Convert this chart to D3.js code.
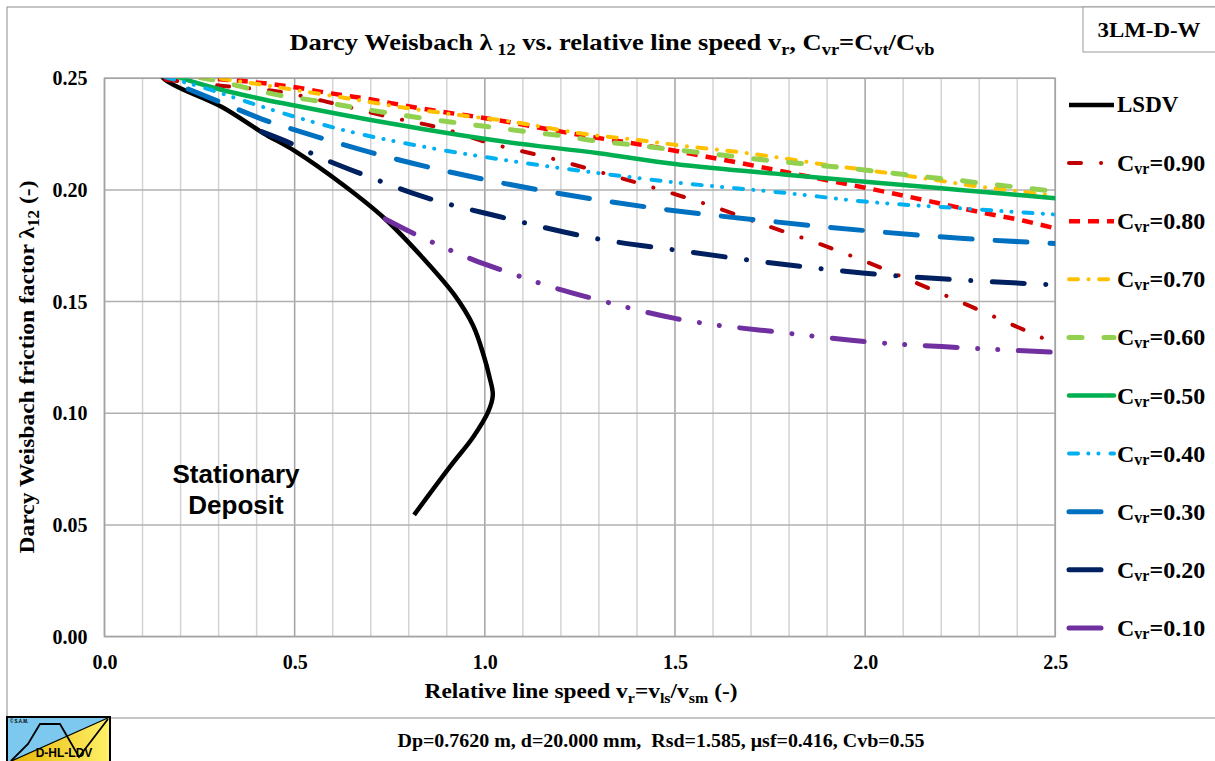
<!DOCTYPE html>
<html><head><meta charset="utf-8">
<script src="https://cdn.jsdelivr.net/npm/d3@7"></script>
<style>
body{margin:0;background:#fff}
svg{display:block}
text{font-family:"Liberation Serif","Times New Roman",serif;font-weight:bold;fill:#000}
</style>
</head><body>
<svg id="chart" width="1215" height="761"></svg>
<script>
// ---------------- data ----------------
const xTicks = [0, 0.5, 1.0, 1.5, 2.0, 2.5];
const yTicks = [0, 0.05, 0.10, 0.15, 0.20, 0.25];
const xTickLabels = ["0.0", "0.5", "1.0", "1.5", "2.0", "2.5"];
const yTickLabels = ["0.00", "0.05", "0.10", "0.15", "0.20", "0.25"];

const lsdv = [[0.145,0.2545],[0.155,0.250],[0.31,0.237],[0.418,0.2254],[0.50,0.2175],[0.628,0.2022],[0.738,0.187],[0.838,0.1694],[0.92,0.153],[0.97,0.139],[0.998,0.1253],[1.012,0.1164],[1.021,0.1082],[1.009,0.1007],[0.97,0.0895],[0.9085,0.0761],[0.814,0.0545]];

const c90 = [[0.16,0.2494],[0.312,0.2466],[0.46,0.2440],[0.602,0.2388],[0.746,0.2328],[0.887,0.2276],[1.014,0.2209],[1.167,0.2145],[1.309,0.2077],[1.448,0.2008],[1.588,0.1933],[1.726,0.1849],[1.866,0.1767],[2.002,0.1679],[2.137,0.1582],[2.273,0.1482],[2.405,0.1383],[2.5,0.1312]];
const c80 = [[0.15,0.2535],[0.25,0.2505],[0.38,0.2485],[0.488,0.2463],[0.593,0.2433],[0.698,0.2406],[0.795,0.2376],[0.9,0.2347],[1.014,0.2318],[1.272,0.2240],[1.417,0.2201],[1.583,0.2149],[1.689,0.2115],[1.794,0.2079],[2.0,0.2010],[2.105,0.1973],[2.206,0.1936],[2.316,0.1896],[2.42,0.1861],[2.5,0.1828]];
const c70 = [[0.15,0.2545],[0.312,0.2497],[0.40,0.2475],[0.518,0.2443],[0.637,0.2411],[0.786,0.2369],[0.943,0.2333],[1.057,0.2309],[1.25,0.2254],[1.425,0.2219],[1.5,0.2202],[1.67,0.2169],[1.785,0.2142],[1.90,0.2112],[2.0,0.2090],[2.145,0.2055],[2.30,0.2015],[2.425,0.1990],[2.5,0.1974]];
const c60 = [[0.16,0.2525],[0.286,0.2493],[0.378,0.2455],[0.470,0.2421],[0.558,0.2399],[0.654,0.2370],[0.742,0.2346],[0.838,0.2321],[0.926,0.2301],[1.018,0.2281],[1.11,0.2261],[1.206,0.2242],[1.294,0.2219],[1.39,0.2202],[1.478,0.2184],[1.570,0.2167],[1.662,0.2149],[1.754,0.2131],[1.846,0.2116],[1.943,0.2100],[2.035,0.2082],[2.127,0.2064],[2.219,0.2048],[2.31,0.2030],[2.403,0.2012],[2.5,0.1994]];
const c50 = [[0.15,0.2535],[0.199,0.2503],[0.3,0.2452],[0.4,0.2412],[0.5,0.2378],[0.7,0.2313],[0.84,0.2272],[1.04,0.2219],[1.3,0.2164],[1.5,0.2116],[1.8,0.2067],[2.0,0.2037],[2.25,0.2000],[2.5,0.1963]];
const c40 = [[0.16,0.2505],[0.251,0.2463],[0.374,0.2395],[0.5,0.2328],[0.663,0.2254],[0.838,0.2194],[1.04,0.2137],[1.30,0.2075],[1.5,0.2034],[1.8,0.1985],[2.0,0.1948],[2.25,0.1918],[2.5,0.1890]];
const c30 = [[0.22,0.2452],[0.312,0.2388],[0.444,0.2299],[0.5,0.2269],[0.724,0.2157],[1.005,0.2045],[1.30,0.1955],[1.50,0.1907],[1.732,0.1863],[2.0,0.1818],[2.25,0.1784],[2.5,0.1760]];
const c20 = [[0.413,0.2261],[0.5,0.2201],[0.553,0.2157],[0.689,0.2063],[0.838,0.1970],[1.04,0.1880],[1.30,0.1780],[1.50,0.1731],[1.80,0.1664],[2.0,0.1627],[2.25,0.1597],[2.5,0.1575]];
const c10 = [[0.738,0.187],[0.825,0.1795],[0.874,0.1757],[0.970,0.1687],[1.062,0.1631],[1.158,0.1575],[1.30,0.1507],[1.50,0.1425],[1.80,0.1358],[2.0,0.1321],[2.25,0.1294],[2.5,0.1273]];

const cvrValues = ["0.90","0.80","0.70","0.60","0.50","0.40","0.30","0.20","0.10"];
const seriesData = [c90, c80, c70, c60, c50, c40, c30, c20, c10];

// ---------------- styles ----------------
const colors = ["#C00000","#FF0000","#FFC000","#92D050","#00B050","#00B0F0","#0070C0","#002060","#7030A0"];
const dashes = ["12,20,0.1,20","11,8","9,10.5,0.1,10.5","13,22",null,"9,10.3,0.1,10,0.1,12","32,23","32,21.5,0.1,21.5","32,20.5,0.1,20,0.1,20.5"];
const caps = ["round","butt","round","round","round","round","round","round","round"];
const widths = [4,4.5,4,5,4.5,4,5,5,5];

const svg = d3.select("#chart");
const X0 = 104.5, X1 = 1055.3, Y0 = 636.6, Y1 = 78.3;
const x = d3.scaleLinear().domain([0, 2.5]).range([X0, X1]);
const y = d3.scaleLinear().domain([0, 0.25]).range([Y0, Y1]);

// outer frame
svg.append("rect").attr("x",7).attr("y",7).attr("width",1300).attr("height",711)
  .attr("fill","none").attr("stroke","#8c8c8c").attr("stroke-width",1);

// gridlines
const g = svg.append("g");
d3.range(0, 26).forEach(i => {
  const v = i / 10;
  const major = i % 5 === 0;
  g.append("line").attr("x1", x(v)).attr("x2", x(v)).attr("y1", Y1).attr("y2", Y0)
    .attr("stroke", major ? "#a3a3a3" : "#d3d3d3").attr("stroke-width", 1.5);
});
yTicks.forEach(v => {
  g.append("line").attr("x1", X0).attr("x2", X1).attr("y1", y(v)).attr("y2", y(v))
    .attr("stroke", "#b0b0b0").attr("stroke-width", 1.5);
});
g.append("rect").attr("x",X0).attr("y",Y1).attr("width",X1-X0).attr("height",Y0-Y1)
  .attr("fill","none").attr("stroke","#a3a3a3").attr("stroke-width",1.5);

// axes (labels only)
const yAxis = d3.axisLeft(y).tickValues(yTicks).tickSize(0).tickPadding(17)
  .tickFormat((d,i) => yTickLabels[i]);
const ya = svg.append("g").attr("transform", `translate(${X0},0)`).call(yAxis);
ya.select(".domain").remove();
ya.selectAll("text").attr("font-size", 20).attr("font-family", "Liberation Serif").attr("font-weight","bold").attr("fill","#000");

const xAxis = d3.axisBottom(x).tickValues(xTicks).tickSize(0).tickPadding(18)
  .tickFormat((d,i) => xTickLabels[i]);
const xa = svg.append("g").attr("transform", `translate(0,${Y0})`).call(xAxis);
xa.select(".domain").remove();
xa.selectAll("text").attr("font-size", 20).attr("font-family", "Liberation Serif").attr("font-weight","bold").attr("fill","#000");

// clip
svg.append("clipPath").attr("id","plotclip").append("rect")
  .attr("x",X0).attr("y",Y1).attr("width",X1-X0).attr("height",Y0-Y1);
const plot = svg.append("g").attr("clip-path","url(#plotclip)");

const lineCR = d3.line().x(d => x(d[0])).y(d => y(d[1])).curve(d3.curveCatmullRom.alpha(0.5));
const lineM = d3.line().x(d => x(d[0])).y(d => y(d[1])).curve(d3.curveMonotoneX);

plot.append("path").datum(lsdv).attr("d", lineCR).attr("fill","none")
  .attr("stroke","#000").attr("stroke-width",4.5).attr("stroke-linejoin","round");

seriesData.forEach((data, i) => {
  plot.append("path").datum(data).attr("d", lineM).attr("fill","none")
    .attr("stroke", colors[i]).attr("stroke-width", widths[i])
    .attr("stroke-dasharray", dashes[i]).attr("stroke-linecap", caps[i]);
});

// rich text helper
function rich(sel, parts, size, subSize, shift) {
  parts.forEach((p, k) => {
    const isSub = p[1] === "sub";
    const prevSub = k > 0 && parts[k-1][1] === "sub";
    const t = sel.append("tspan").text(p[0]).attr("font-size", isSub ? subSize : size);
    let dy = 0;
    if (isSub && !prevSub) dy = shift;
    if (!isSub && prevSub) dy = -shift;
    if (dy) t.attr("dy", dy);
  });
}

// title
const title = svg.append("text").attr("x", 612).attr("y", 50).attr("text-anchor","middle").attr("font-size",23)
  .attr("textLength", 645).attr("lengthAdjust","spacingAndGlyphs");
rich(title, [["Darcy Weisbach λ"],[" 12","sub"],[" vs. relative line speed v"],["r","sub"],[", C"],["vr","sub"],["=C"],["vt","sub"],["/C"],["vb","sub"]], 23, 16, 5);

// 3LM box
svg.append("rect").attr("x",1083).attr("y",7).attr("width",140).attr("height",45)
  .attr("fill","#fff").attr("stroke","#9a9a9a").attr("stroke-width",1);
svg.append("text").attr("x",1149).attr("y",37).attr("text-anchor","middle").attr("font-size",22)
  .attr("textLength",103).attr("lengthAdjust","spacingAndGlyphs").text("3LM-D-W");

// y-axis title
const yt = svg.append("text").attr("transform","translate(34,367) rotate(-90)").attr("text-anchor","middle").attr("font-size",22)
  .attr("textLength", 373).attr("lengthAdjust","spacingAndGlyphs");
rich(yt, [["Darcy Weisbach friction factor λ"],["12","sub"],[" (-)"]], 22, 16, 5);

// x-axis title
const xt = svg.append("text").attr("x",581).attr("y",698).attr("text-anchor","middle").attr("font-size",22)
  .attr("textLength", 313).attr("lengthAdjust","spacingAndGlyphs");
rich(xt, [["Relative line speed v"],["r","sub"],["=v"],["ls","sub"],["/v"],["sm","sub"],[" (-)"]], 22, 15, 5);

// bottom parameters
svg.append("text").attr("x",661).attr("y",747).attr("text-anchor","middle").attr("font-size",18)
  .attr("textLength", 527).attr("lengthAdjust","spacingAndGlyphs")
  .style("white-space","pre").text("Dp=0.7620 m, d=20.000 mm,  Rsd=1.585, μsf=0.416, Cvb=0.55");

// Stationary deposit
svg.append("text").attr("x",236).attr("y",483).attr("text-anchor","middle")
  .style("font-family","'Liberation Sans', Arial, sans-serif").attr("font-size",26).text("Stationary");
svg.append("text").attr("x",236).attr("y",514).attr("text-anchor","middle")
  .style("font-family","'Liberation Sans', Arial, sans-serif").attr("font-size",26).text("Deposit");

// legend
const legY = i => 105 + i * 58.1;
const lg = svg.append("g");
lg.append("line").attr("x1",1069).attr("x2",1114).attr("y1",legY(0)).attr("y2",legY(0))
  .attr("stroke","#000").attr("stroke-width",4.5);
lg.append("text").attr("x",1117).attr("y",legY(0)+7).attr("font-size",23).text("LSDV");
cvrValues.forEach((c, i) => {
  const yy = legY(i+1);
  lg.append("line").attr("x1",1069).attr("x2",1114).attr("y1",yy).attr("y2",yy)
    .attr("stroke",colors[i]).attr("stroke-width",widths[i])
    .attr("stroke-dasharray",dashes[i]).attr("stroke-linecap",caps[i]);
  const t = lg.append("text").attr("x",1117).attr("y",yy+8).attr("font-size",24);
  rich(t, [["C"],["vr","sub"],["="+c]], 24, 16, 3);
});

// logo
const lgX = 7, lgY = 717, lw = 103, lh = 46;
const defs = svg.append("defs");
const grad = defs.append("linearGradient").attr("id","ylw").attr("x1","0").attr("x2","1").attr("y1","0").attr("y2","0");
grad.append("stop").attr("offset","0").attr("stop-color","#E6B400");
grad.append("stop").attr("offset","1").attr("stop-color","#FFF16A");
const logo = svg.append("g").attr("transform",`translate(${lgX},${lgY})`);
logo.append("rect").attr("width",lw).attr("height",lh).attr("fill","url(#ylw)");
logo.append("polygon").attr("points",`0,0 ${lw},0 0,${lh}`).attr("fill","#7CC8EE");
logo.append("line").attr("x1",0).attr("y1",lh).attr("x2",lw).attr("y2",0).attr("stroke","#000").attr("stroke-width",1.2);
logo.append("polyline").attr("points",[[4,44],[21,27],[33,7],[53,7],[72,40],[101,2]].map(p=>p.join(",")).join(" "))
  .attr("fill","none").attr("stroke","#000").attr("stroke-width",1.8);
logo.append("text").attr("x",3).attr("y",6).attr("font-size",4.5)
  .style("font-family","'Liberation Sans', Arial, sans-serif").text("© S.A.M.");
logo.append("text").attr("x",57).attr("y",40).attr("text-anchor","middle").attr("font-size",12)
  .style("font-family","'Liberation Sans', Arial, sans-serif").text("D-HL-LDV");
logo.append("rect").attr("width",lw).attr("height",lh).attr("fill","none").attr("stroke","#000").attr("stroke-width",2);
</script>
</body></html>
